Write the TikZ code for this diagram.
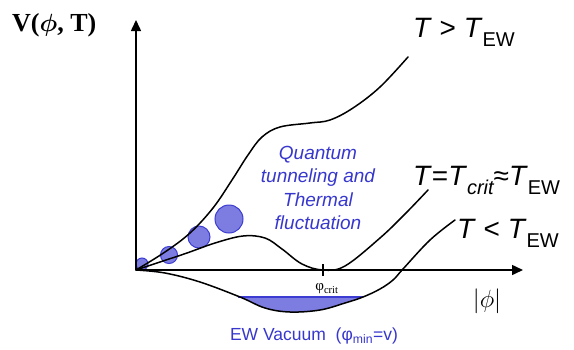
\documentclass[tikz,border=0pt]{standalone}
\usepackage{amsmath}
\usepackage{fontspec}
\setmainfont{Liberation Serif}
\setsansfont{Liberation Sans}
\usepackage{tikz}
\usetikzlibrary{arrows.meta}
\definecolor{blue2}{RGB}{55,55,205}
\definecolor{bubblefill}{RGB}{125,125,225}
\definecolor{bubbleedge}{RGB}{60,60,210}
\newcommand{\lowsub}[1]{\raisebox{-0.33em}{\fontsize{20}{20}\selectfont #1}}

\begin{document}
\begin{tikzpicture}[x=1pt, y=-1pt,
        axis/.style  ={draw, line width=1.5pt, -{Triangle[length=11pt, width=10pt]}},
        curve/.style ={draw, line width=1.5pt, line cap=round},
        bubble/.style={circle, draw=bubbleedge, fill=bubblefill, line width=1pt, inner sep=0pt},
        templabel/.style={font=\sffamily\fontsize{28}{28}\selectfont, inner sep=0pt, anchor=base west},
        bluetext/.style ={text=blue2, inner sep=0pt, align=center},
    ]
\useasboundingbox (0,0) rectangle (574,349);

% Coordinates

\coordinate (origin) at (136,270);
\coordinate (ytip) at (136,20);
\coordinate (xtip) at (523,270);
\coordinate (crit) at (323,270);

% Vacuum

\begin{scope}
\clip (0,297) rectangle (574,349);
\fill[bubblefill] plot[smooth, tension=0.6] coordinates {(136,270) (165,273) (200,282) (240,297) (265,308) (290,312) (320,310) (345,303) (363,297) (380,289) (393,280) (403,269) (430,240) (455,220)} -- cycle;
\end{scope}
\draw[bubbleedge, line width=1.2pt] (238,297) -- (363,297);

% Bubbles

\node (b1) [bubble, minimum size=12pt] at (142,264) {};
\node (b2) [bubble, minimum size=17pt] at (169,255) {};
\node (b3) [bubble, minimum size=22pt] at (199,237) {};
\node (b4) [bubble, minimum size=28pt] at (229,219) {};

% Axes

\draw[axis] (origin) -- (ytip);
\draw[axis] (origin) -- (xtip);
\draw[line width=1.2pt] (crit) ++(0,-6) -- ++(0,12);

% Curves

\draw[curve] plot[smooth, tension=0.6] coordinates {(136,270) (165,252) (190,233) (213,208) (232,180) (248,155) (262,137) (280,127) (310,123) (330,120) (353,108) (380,87) (408,57)};
\draw[curve] plot[smooth, tension=0.6] coordinates {(136,270) (160,262) (187,253) (215,243) (243,236) (265,238) (282,249) (302,264) (323,270) (345,266) (380,238) (405,214) (428,190)};
\draw[curve] plot[smooth, tension=0.6] coordinates {(136,270) (165,273) (200,282) (240,297) (265,308) (290,312) (320,310) (345,303) (363,297) (380,289) (393,280) (403,269) (430,240) (455,220)};

% Labels

\node (Vlabel) [inner sep=0pt, anchor=base west, font=\bfseries\fontsize{26}{26}\selectfont] at (12,31) {V($\boldsymbol{\phi}$, T)};
\node (Thigh) [templabel] at (413,37) {\textit{T} > \textit{T}\lowsub{EW}};
\node (Tcrit) [templabel] at (413,185) {\textit{T}=\textit{T}\lowsub{\itshape crit}≈\textit{T}\lowsub{EW}};
\node (Tlow) [templabel] at (457,238) {\textit{T} < \textit{T}\lowsub{EW}};
\node (absphi) [inner sep=0pt, font=\fontsize{32}{32}\selectfont] at (487,301) {$|\phi|$};
\node (phicrit) [inner sep=0pt, font=\fontsize{15}{15}\selectfont] at (327,289) {φ\textsubscript{crit}};
\node (tunnel) [bluetext, font=\sffamily\itshape\fontsize{19}{23.5}\selectfont] at (318,188) {Quantum\\tunneling and\\Thermal\\fluctuation};
\node (vacuum) [bluetext, font=\sffamily\fontsize{17.5}{17.5}\selectfont] at (314,336) {EW Vacuum \ (φ\textsubscript{min}=v)};

\end{tikzpicture}
\end{document}
